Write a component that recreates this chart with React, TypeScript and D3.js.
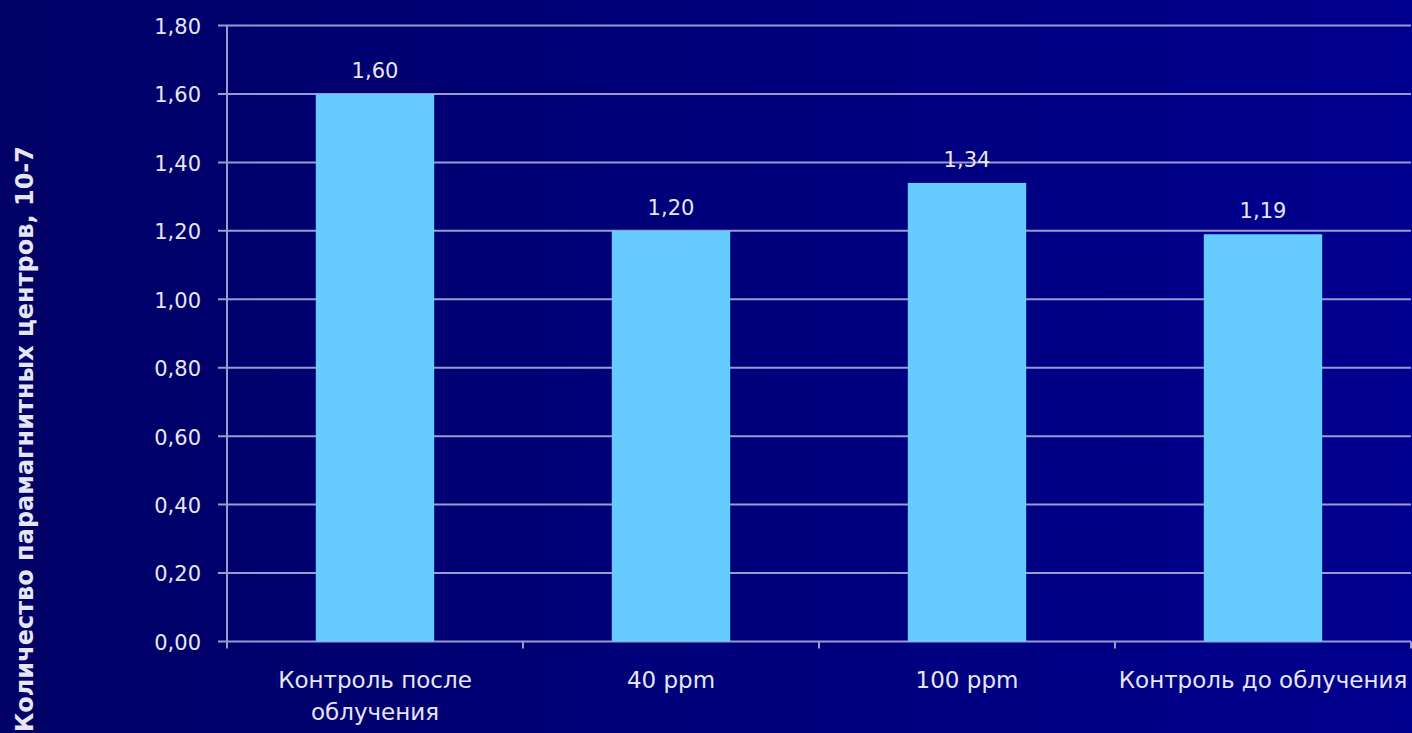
import React from "react";
import * as d3 from "d3";

// Количество парамагнитных центров по вариантам опыта
const categories = ["Контроль после облучения", "40 ppm", "100 ppm", "Контроль до облучения"];
const categoryLines = [["Контроль после", "облучения"], ["40 ppm"], ["100 ppm"], ["Контроль до облучения"]];
const values = [1.6, 1.2, 1.34, 1.19];
const yTicks = [0, 0.2, 0.4, 0.6, 0.8, 1.0, 1.2, 1.4, 1.6, 1.8];
const yTitle = "Количество парамагнитных центров, 10-7";

const W = 1412;
const H = 733;
const M = { left: 227, right: 1411, top: 25.5, bottom: 641.5 };
const FONT = "'DejaVu Sans', Verdana, sans-serif";
const TEXT = "#e6e6f2";
const GRID = "#9a9ad0";

const fmt = (v: number) => v.toFixed(2).replace(".", ",");

export default function App() {
  const x = d3
    .scaleBand<string>()
    .domain(categories)
    .range([M.left, M.right])
    .paddingInner(0.6)
    .paddingOuter(0.3);
  const y = d3.scaleLinear().domain([0, 1.8]).range([M.bottom, M.top]);
  const step = x.step();
  const boundaries = d3.range(categories.length + 1).map((i) => M.left + i * step);

  return (
    <svg
      width={W}
      height={H}
      style={{ position: "absolute", left: 0, top: 0, display: "block" }}
    >
      <defs>
        <linearGradient id="bg" x1="0" y1="0" x2="1" y2="0">
          <stop offset="0" stopColor="#000066" />
          <stop offset="1" stopColor="#00008e" />
        </linearGradient>
      </defs>
      <rect x={0} y={0} width={W} height={H} fill="url(#bg)" />

      {/* горизонтальная сетка и деления оси Y */}
      {yTicks.map((t) => (
        <g key={t}>
          <line x1={218} x2={M.right} y1={y(t)} y2={y(t)} stroke={GRID} strokeWidth={2} />
          <text
            x={201}
            y={y(t)}
            dy="0.4em"
            textAnchor="end"
            fill={TEXT}
            fontFamily={FONT}
            fontSize={21}
          >
            {fmt(t)}
          </text>
        </g>
      ))}
      <line x1={M.left} x2={M.left} y1={M.top} y2={M.bottom + 7} stroke={GRID} strokeWidth={2} />
      {boundaries.slice(1).map((bx, i) => (
        <line key={i} x1={bx} x2={bx} y1={M.bottom} y2={M.bottom + 7} stroke={GRID} strokeWidth={2} />
      ))}

      {/* столбцы */}
      {categories.map((c, i) => (
        <g key={c}>
          <rect
            x={x(c)!}
            y={y(values[i])}
            width={x.bandwidth()}
            height={y(0) - y(values[i])}
            fill="#66ccff"
          />
          <text
            x={x(c)! + x.bandwidth() / 2}
            y={y(values[i]) - 16}
            textAnchor="middle"
            fill={TEXT}
            fontFamily={FONT}
            fontSize={21}
          >
            {fmt(values[i])}
          </text>
          <text
            x={x(c)! + x.bandwidth() / 2}
            y={688}
            textAnchor="middle"
            fill={TEXT}
            fontFamily={FONT}
            fontSize={23}
          >
            {categoryLines[i].map((ln, k) => (
              <tspan key={k} x={x(c)! + x.bandwidth() / 2} dy={k === 0 ? 0 : 32}>
                {ln}
              </tspan>
            ))}
          </text>
        </g>
      ))}

      {/* подпись оси Y */}
      <text
        transform="translate(33,146) rotate(-90)"
        textAnchor="end"
        fill={TEXT}
        fontFamily={FONT}
        fontWeight="bold"
        fontSize={24}
      >
        {yTitle}
      </text>
    </svg>
  );
}
